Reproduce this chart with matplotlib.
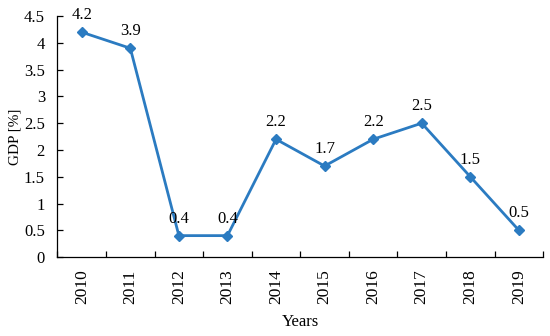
import matplotlib
matplotlib.use("Agg")
import matplotlib.pyplot as plt
from matplotlib.ticker import FixedLocator, NullFormatter

years = ["2010", "2011", "2012", "2013", "2014", "2015", "2016", "2017", "2018", "2019"]
gdp = [4.2, 3.9, 0.4, 0.4, 2.2, 1.7, 2.2, 2.5, 1.5, 0.5]

plt.rcParams['font.family'] = ['Liberation Serif', 'DejaVu Serif']
fig = plt.figure(figsize=(5.5, 3.36), dpi=100)
ax = fig.add_axes([0.1045, 0.235, 0.883, 0.717])

x = list(range(len(years)))
color = '#2B7BC1'
ax.plot(x, gdp, color=color, lw=2, marker='D', markersize=5, zorder=3, clip_on=False)
for xi, v in zip(x, gdp):
    ax.annotate(f"{v:.1f}", (xi, v), xytext=(0, 6.5), textcoords='offset points',
                ha='center', va='bottom', fontsize=12)

ax.set_xlim(-0.5, len(years) - 0.5)
ax.set_ylim(0, 4.5)
ax.set_yticks([i * 0.5 for i in range(10)])
ax.set_yticklabels([f"{i*0.5:g}" for i in range(10)], fontsize=12)
ax.set_xticks(x)
ax.set_xticklabels(years, rotation=90, fontsize=12.5)
ax.tick_params(axis='x', which='major', length=0, pad=9)
ax.xaxis.set_minor_locator(FixedLocator([i + 0.5 for i in range(-1, len(years))]))
ax.xaxis.set_minor_formatter(NullFormatter())
ax.tick_params(axis='x', which='minor', direction='in', length=4, width=0.9)
ax.tick_params(axis='y', direction='in', length=4, width=0.9, pad=9)
for s in ['top', 'right']:
    ax.spines[s].set_visible(False)
for s in ['left', 'bottom']:
    ax.spines[s].set_linewidth(0.9)
ax.set_xlabel("Years", fontsize=12, labelpad=7)
ax.set_ylabel("GDP [%]", fontsize=11, labelpad=2)
fig.savefig("out.png", dpi=100)
